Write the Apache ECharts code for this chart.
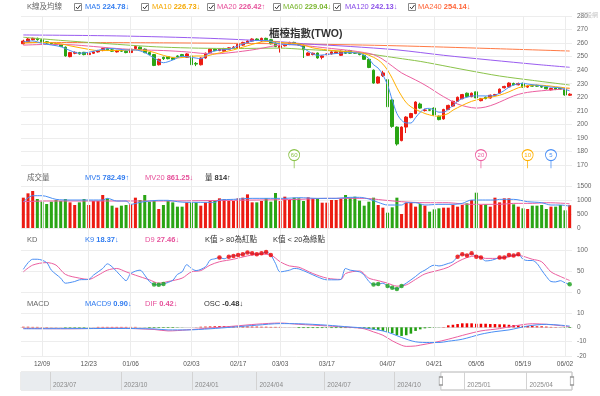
<!DOCTYPE html>
<html><head><meta charset="utf-8">
<script src="https://cdn.jsdelivr.net/npm/echarts@6/dist/echarts.min.js"></script>
<style>html,body{margin:0;padding:0;background:#fff}#c{width:600px;height:396px}</style>
</head><body><div id="c"></div>
<script>
// ---------- categories ----------
const monthDays = [
  ['12',[3,4,5,6,9,10,11,12,13,16,17,18,19,20,23,24,25,26,27,30,31]],
  ['01',[2,3,6,7,8,9,10,13,14,15,16,17,20,21,22]],
  ['02',[3,4,5,6,7,10,11,12,13,14,17,18,19,20,21,24,25,26,27]],
  ['03',[3,4,5,6,7,10,11,12,13,14,17,18,19,20,21,24,25,26,27,28,31]],
  ['04',[1,2,7,8,9,10,11,14,15,16,17,18,21,22,23,24,25,28,29,30]],
  ['05',[2,5,6,7,8,9,12,13,14,15,16,19,20,21,22,23,26,27,28,29]],
  ['06',[2,3]]
];
const dates = monthDays.flatMap(([m, ds]) => ds.map(d => m + '/' + String(d).padStart(2,'0')));
const dateTicks = ['12/09','12/23','01/06','02/03','02/17','03/03','03/17','04/07','04/21','05/05','05/19','06/02'];

// ---------- price ----------
const open = [259.5,261,262.5,263.5,262.5,261,260,259.5,258.8,257,
250,252.5,253,253.2,251.5,252.5,253.5,254.5,256,255,
253.5,254.5,254,253,256,257,255.5,253,251.5,244,
249.5,250,249,250.5,251.5,249.5,250.5,245,244,249,
253,255.5,254.5,254,255.5,256.5,256.5,258.5,260,261.5,
263,261.5,263.5,262.5,260,256.5,258,259,260.5,259.5,
258.5,251,251.5,252.7,249.5,251.5,252,252.5,251,254,
254.5,253,252.5,251,248,240,230.5,236,233,218,
198,188,198,205,208,215,210.3,210.8,212,206,
204,211,213.5,217,219,223,220.5,224,217.5,220,
219.5,221.5,223,227,227.6,230.2,229.2,230.3,227.5,228.8,
228.8,228,227.5,225.5,226.8,226.5,226,221.5];
const close = [261.5,263,263.5,262.5,261,260,259.5,258.8,257.5,250.5,
253,253.2,252,251.5,252.5,253.5,254.5,256,255,254,
254.5,254,253,255.5,257.5,255.5,253,251.5,243.5,248,
248.5,248.5,248,250,250.5,252,244,244.5,249,252.5,
255.5,254.5,255.5,256,256.5,257,259,260.5,261.5,263,
262,263.5,262.5,259.5,257.5,258,259,260.5,259.5,258.5,
255,252.7,252.5,249,250.5,252,253.5,253.5,254,252.5,
252.5,252.5,251.5,248,242,230.5,235,238,213,198.5,
185.5,198,205.4,208,216.5,212,210.6,210.4,207,203.5,
211,214,217,220,222,220.5,223,219.5,219,219,
221.5,222,226,228,230.5,229.2,230.2,227.5,228.3,228.2,
228.2,227.5,226.3,226.5,225.8,226,221.7,222.3];
const low = [259,260.5,262,261.8,260.5,259.5,259,258.3,257,250,
249.5,251.8,251.5,251,251,252,253,254,254.5,253.5,
253,253.5,252.5,252.8,255.5,255,252.5,251,243,243.5,
247.5,248,247.5,249.5,250,249,243.5,243,243.5,248.5,
252.5,254,254,253.5,255,256,256,258,259.5,261,
261.5,261,262,259,257,253,257.5,258.5,259,258,
249,250.5,251,248.5,248,251,251.5,252,250.5,252,
252,252,251,247.5,241.5,230,230,235,212.5,197.5,
184.3,187.5,193.6,204.5,207.5,211.5,209.5,209.8,206.5,203,
203.5,210.5,213,216.5,218.5,220,220,217,217,218.5,
219,221,222.5,226.5,227,228.8,228.8,227,227,227.8,
227.8,227,225.8,225,225.3,225.5,221.2,221];
const high = [262.5,263.8,264,264,263,261.5,260.8,260,259.2,257.5,
253.5,253.8,253.5,253.5,253,254,255,256.5,256.5,255.5,
255,255,254.5,256,258,257.5,256,253.5,252,248.5,
250,250.5,249.5,251,252,252.5,251,246,249.5,253,
256,256,256,256.5,257,257.8,259.5,261,262,263.5,
263.5,264,264,263,260.5,258.5,259.5,261,261,260,
259,253.2,253,253,251,252.5,254,254,254.5,254.5,
255,253.5,253,251.5,248.5,240.5,235.5,239.5,233.5,218.5,
198.5,198.5,206,208.5,217,216,211.5,211.2,212.5,206.5,
211.5,214.5,217.5,220.5,222.5,223.5,223.5,225,219.5,220.5,
222,222.5,226.5,228.5,231,230.8,230.8,230.8,228.8,229.2,
229.2,228.5,228,227,227.2,227,226.5,223];

// moving averages: [index, value]
const ma5 = [[0,261],[2,261.6],[4,259.8],[6,258.6],[8,257.4],[10,254.5],[12,252.5],[14,253.2],[17,255.4],[19,256],[22,254.9],[24,254.9],[26,253],[28,249],[30,245.5],[32,247.5],[34,250.3],[36,249.5],[38,248.5],[40,253],[42,254.9],[44,255.4],[46,258],[48,260.5],[50,262],[52,262],[54,260],[56,259],[58,258.8],[59,258.5],[61,254],[63,251],[66,252],[68,252.6],[70,253],[72,252.5],[73,251],[74,248.5],[75,244],[76,241.5],[77,236.5],[78,229],[79,218],[80,208],[81,203],[82,201],[83,201],[84,205],[85,209],[86,211.5],[87,211.8],[88,210.5],[89,209],[90,209],[91,211],[92,214],[93,217],[94,219],[95,220],[96,221],[98,221],[100,221],[101,221.5],[102,223],[103,225],[104,227.5],[105,229],[106,230],[107,230.3],[108,229.8],[109,229.3],[111,228.5],[113,227.5],[115,227],[116,225.8],[117,224.78]];
const ma10 = [[0,260],[4,260.5],[8,259.5],[10,258],[13,256],[16,254.5],[20,254.5],[24,255],[27,254],[29,252],[31,250],[33,249],[35,249.8],[37,250.5],[39,250.5],[41,252],[43,253.5],[45,255],[47,257],[49,259],[51,260.8],[53,261.2],[55,260.5],[57,260],[59,259.5],[62,256.5],[65,255],[68,254],[71,253.2],[73,252.3],[75,249.5],[76,247.5],[77,244.5],[78,240],[79,234],[80,227],[81,221],[82,216],[83,213],[84,211],[85,209.5],[86,208],[87,207],[88,206.2],[89,206],[90,206.8],[91,208],[92,210.5],[94,214],[96,217],[98,218.8],[100,220],[102,221.5],[104,224],[106,227],[108,228.5],[110,229],[112,228.6],[114,227.8],[116,227],[117,226.73]];
const ma20 = [[0,258.5],[5,259],[10,258.8],[15,257.5],[20,256],[25,255],[30,254.5],[35,253.5],[38,252.5],[41,252],[44,252.8],[47,254],[50,255.5],[53,257.5],[56,259],[59,258.5],[62,257.5],[66,256],[70,254.5],[73,253],[75,251.5],[77,248],[79,243],[81,238],[83,234.5],[85,231],[87,227],[89,222.5],[91,218.5],[93,215],[95,213],[97,212],[99,212.8],[101,215],[103,218],[105,221],[107,223],[109,224.1],[111,224.8],[113,225.4],[115,225.9],[117,226.42]];
const ma60 = [[0,264.3],[8,262],[17,259.8],[30,257],[45,256],[55,256.3],[60,255.4],[65,254.5],[70,253.5],[75,251.5],[80,249],[85,246.5],[88,244.6],[95,240],[102,235.7],[109,232.5],[117,229.04]];
const ma120 = [[0,266],[20,265.3],[40,263.5],[55,261],[60,259.5],[70,257.5],[80,255],[90,251],[100,247.5],[110,244.2],[117,242.13]];
const ma240 = [[0,260.5],[30,260.2],[60,259.3],[80,258],[100,256],[117,254.14]];

// ---------- volume ----------
const volume = [1083,1238,1321,1035,940,857,940,1000,964,1035,
916,821,916,1035,821,964,964,1178,1059,797,
726,797,821,845,1083,1000,1178,940,964,678,
821,964,916,762,762,916,916,916,797,916,
964,964,1059,1035,964,964,1059,1083,1202,916,
916,964,1059,940,1250,964,1119,1000,1083,1060,
964,1095,1059,1059,904,904,1000,1000,1035,1178,
1083,1119,976,797,940,1083,821,726,547,738,
1083,500,904,904,762,857,797,583,666,702,
726,726,821,762,821,880,1000,1261,821,845,
762,1083,916,1059,1059,845,762,702,678,797,
797,821,678,762,762,821,631,814];
const mv5 = [[0,940],[2,1154],[4,1154],[7,1023],[10,1000],[13,1000],[17,1000],[18,1059],[20,964],[22,964],[23,845],[25,916],[27,964],[29,988],[31,988],[33,940],[35,916],[38,916],[41,916],[42,1000],[45,1023],[49,1059],[52,1059],[56,1059],[59,1083],[63,1059],[67,1059],[70,1095],[72,1095],[74,1035],[76,916],[78,821],[81,821],[82,904],[84,904],[86,821],[89,845],[92,845],[94,880],[96,1000],[99,1000],[101,1000],[102,1023],[105,1023],[108,940],[111,904],[113,821],[115,821],[117,782.49]];
const mv20 = [[0,940],[5,964],[10,964],[20,964],[30,964],[40,980],[50,1000],[59,1023],[65,1059],[73,1059],[77,1000],[81,940],[86,904],[91,904],[94,857],[96,845],[102,845],[105,880],[109,880],[112,904],[116,880],[117,861.25]];

// ---------- KD ----------
const kLine = [[0,54],[2,78],[3,78],[5,70],[6,52],[8,33],[9,21],[11,25],[12,29],[14,30],[15,40],[17,56],[18,67],[19,60],[21,37],[22,27],[23,44],[25,52],[26,40],[27,25],[28,18],[29,17],[30,19],[32,28],[33,42],[34,48],[35,65],[36,56],[37,51],[39,60],[40,76],[41,79],[42,82],[43,79],[44,84],[45,86],[46,88],[47,90],[48,94],[49,92],[50,90],[51,92],[52,95],[53,88],[54,68],[55,48],[57,52],[58,56],[59,55],[61,46],[63,36],[65,29],[67,29],[68,30],[69,56],[70,52],[72,48],[73,40],[74,25],[75,18],[76,19],[77,21],[78,14],[79,10],[80,7],[81,14],[82,21],[84,37],[85,46],[86,52],[88,64],[89,62],[91,68],[92,72],[93,84],[94,90],[95,87],[96,92],[97,84],[98,82],[99,74],[100,75],[101,78],[102,82],[103,82],[104,88],[105,87],[106,90],[107,78],[108,75],[109,75],[110,68],[111,52],[112,37],[113,25],[114,24],[115,27],[116,22],[117,18.37]];
const dLine = [[0,48],[2,64],[5,70],[7,64],[9,42],[12,33],[14,30],[16,40],[18,52],[20,56],[22,48],[24,40],[27,29],[29,21],[31,25],[34,33],[36,48],[38,51],[40,64],[42,72],[45,78],[48,86],[51,90],[53,88],[55,72],[57,62],[59,59],[62,44],[65,33],[68,30],[69,44],[72,50],[74,33],[76,27],[78,21],[80,14],[82,17],[84,30],[86,43],[89,52],[91,59],[93,72],[95,82],[97,86],[99,80],[102,80],[105,86],[106,87],[109,78],[111,72],[113,48],[115,37],[117,27.46]];

// ---------- MACD ----------
const osc = [0.4,0.4,0.3,0.3,0.2,0.2,0.1,0.1,0.05,-0.3,
-0.3,-0.3,-0.3,-0.3,-0.1,0.05,0.3,0.3,0.3,0.3,
0.3,0.3,0.3,0.3,0.3,0.05,-0.1,-0.4,-0.4,-0.4,
-0.4,-0.4,-0.4,-0.2,-0.1,0,0.05,0.1,0.4,0.5,
0.6,0.7,0.8,0.8,0.8,0.7,0.7,0.6,0.6,0.5,
0.5,0.4,0.4,0.3,0.3,0.3,0.05,0.05,0.05,-0.5,
-0.5,-0.5,-0.5,-0.5,-0.5,-0.5,-0.5,-0.5,-0.5,-0.5,
-0.5,-0.5,-0.6,-0.7,-1.0,-1.5,-1.8,-2.5,-3.2,-4.1,
-5.5,-6,-5.5,-4.4,-2.5,-1.4,-0.7,-0.4,-0.3,-0.1,
0.2,1.4,1.8,2.3,2.8,2.8,2.8,2.5,2.5,2.5,
2.3,2.3,2.1,2.1,1.8,1.6,1.4,1.1,0.9,0.9,
0.7,0.7,0.5,0.3,0.2,0.1,-0.3,-0.48];
const dif = [[0,-0.8],[10,-1],[20,-0.6],[28,-1.5],[31,-2.5],[35,-1.8],[40,-0.5],[45,0.8],[50,2.2],[55,3],[59,2.1],[65,1],[70,0],[73,-1],[75,-3.2],[77,-5.5],[79,-9.4],[81,-12.5],[82,-13.3],[84,-13],[85,-12.4],[88,-10.6],[91,-8.3],[95,-4.8],[98,-2.5],[102,-0.9],[105,0.9],[109,2.5],[112,2.1],[115,1.2],[117,0.42]];
const macd9 = [[0,-1],[10,-0.9],[20,-0.8],[28,-1.1],[31,-1.8],[35,-1.8],[40,-1],[45,0.2],[50,1.5],[55,2.6],[59,2.5],[65,1.5],[70,0.2],[73,-0.5],[77,-2.5],[79,-4.5],[81,-7.1],[84,-10.1],[87,-10.6],[89,-10.6],[91,-9.7],[94,-8.3],[98,-4.8],[101,-3],[104,-1.8],[108,0.9],[112,2.1],[115,1.5],[117,0.9]];

// ---------- legend texts ----------
const maNames = ['MA5','MA10','MA20','MA60','MA120','MA240'];
const maLast = ['224.78','226.73','226.42','229.04','242.13','254.14'];
const maArrow = ['↓','↓','↑','↓','↓','↓'];
const pinPeriods = [60,20,10,5];

// navigator (trading-day index of whole history)
const navTickPos = [26,90,154,212,273,336,399,455];
const navTickLabels = ['2023/07','2023/10','2024/01','2024/04','2024/07','2024/10','2025/01','2025/04'];
const navTotal = 496;
const navWindow = [378,496];

// ---------- styling ----------
const F = "'Liberation Sans','Noto Sans CJK TC',sans-serif";
const LC = {blue:'#4a8ff5', orange:'#ffb000', pink:'#ec5fa0', green:'#8bc34a', purple:'#9a5cf0', coral:'#ff7a45'};
const TC = {blue:'#2f7bf0', orange:'#f5a800', pink:'#e6509a', green:'#79b52d', purple:'#8a4fe8', coral:'#ff6336'};
const UP = '#ec1b12', DOWN = '#2aa515';
const maColors = ['blue','orange','pink','green','purple','coral'];
const N = dates.length;

const chart = echarts.init(document.getElementById('c'), null, {renderer:'canvas', width:600, height:396, devicePixelRatio:1});

const grids = [
  {left:21, right:28, top:16, height:149},
  {left:21, right:28, top:186, height:42},
  {left:21, right:28, top:250, height:42},
  {left:21, right:28, top:313, height:43},
  {left:21, right:28, top:372, height:18, show:true, borderColor:'#d8d8d8', borderWidth:1, backgroundColor:'transparent'},
  {left:21, right:28, top:16, height:340}
];
const catAxis = (gi, showLabel) => ({
  type:'category', gridIndex:gi, data:dates, boundaryGap:true,
  axisLine:{show:showLabel, lineStyle:{color:'#dddddd'}},
  axisTick:{show:false},
  axisLabel:{show:showLabel, interval:(i,v)=>dateTicks.includes(v), fontSize:6.5, color:'#555', margin:5, fontFamily:F},
  splitLine:{show:false}
});
const valAxis = (gi, min, max, interval) => ({
  type:'value', gridIndex:gi, position:'right', min, max, interval,
  axisLine:{show:false}, axisTick:{show:false},
  axisLabel:{fontSize:6.5, color:'#666', margin:5, fontFamily:F, formatter:(v)=>String(v)},
  splitLine:{lineStyle:{color:'#ededed', width:1}}
});

const line = (data, color, xi, yi, z) => ({
  type:'line', data, xAxisIndex:xi, yAxisIndex:yi, showSymbol:false, smooth:0.3,
  lineStyle:{color, width:1}, itemStyle:{color}, z:z||3, silent:true
});

const series = [];
// candles
series.push({
  type:'candlestick', xAxisIndex:0, yAxisIndex:0, barWidth:'68%',
  data: open.map((o,i)=>[o, close[i], low[i], high[i]]),
  itemStyle:{color:UP, color0:DOWN, borderColor:UP, borderColor0:DOWN, borderWidth:1},
  z:2,
  markPoint:{
    symbol:'path://M0,5A5,5,0,1,1,10,5A5,5,0,1,1,0,5ZM5,10L5,17',
    symbolSize:[11,18.7], symbolKeepAspect:false, silent:true,
    data: pinPeriods.map((p,k)=>{
      const col = [LC.green, LC.pink, LC.orange, LC.blue][k];
      return {coord:[N-p, 174.5], itemStyle:{color:'#fff', borderColor:col, borderWidth:1},
        label:{show:true, formatter:String(p), color:col, fontSize:6, fontFamily:F, offset:[0,-3.9]}};
    })
  }
});
[ma240, ma120, ma60, ma20, ma10, ma5].forEach((d,k)=>{
  const c = maColors[5-k];
  series.push(line(d, LC[c], 0, 0, 3));
});
// volume
series.push({
  type:'bar', xAxisIndex:1, yAxisIndex:1, barWidth:'65%', silent:true,
  data: volume.map((v,i)=>({value:v, itemStyle:{color: close[i]>=open[i]?UP:DOWN}}))
});
series.push(line(mv20, LC.pink, 1, 1));
series.push(line(mv5, LC.blue, 1, 1));
// KD
series.push(line(dLine, LC.pink, 2, 2));
series.push(line(kLine, LC.blue, 2, 2));
series.push({type:'scatter', xAxisIndex:2, yAxisIndex:2, symbolSize:4.5, z:5, silent:true,
  data:kLine.filter(p=>p[1]>80), itemStyle:{color:'#f00000'}});
series.push({type:'scatter', xAxisIndex:2, yAxisIndex:2, symbolSize:4.5, z:5, silent:true,
  data:kLine.filter(p=>p[1]<20), itemStyle:{color:'#1aa01a'}});
// MACD
series.push({
  type:'bar', xAxisIndex:3, yAxisIndex:3, barWidth:'55%', silent:true,
  data: osc.map(v=>({value:v, itemStyle:{color: v>=0?'#f00000':'#22a012'}}))
});
series.push(line(dif, LC.pink, 3, 3));
series.push(line(macd9, LC.blue, 3, 3));
// background vertical lines
series.push({
  type:'line', xAxisIndex:5, yAxisIndex:5, data:[], silent:true, z:0,
  markLine:{silent:true, symbol:['none','none'], animation:false, label:{show:false},
    lineStyle:{color:'#ececec', type:'solid', width:1},
    data: dateTicks.map(d=>({xAxis:d}))}
});
// navigator
series.push({
  type:'line', xAxisIndex:4, yAxisIndex:4, data:[], silent:true, z:1, zlevel:0,
  markArea:{silent:true, z:1, data:[
    [{xAxis:0, itemStyle:{color:'#e9ecef'}}, {xAxis:navWindow[0]}],
    [{xAxis:navWindow[0], itemStyle:{color:'rgba(255,255,255,0)', borderColor:'#c8c8c8', borderWidth:1}}, {xAxis:navWindow[1]}]
  ]},
  markLine:{silent:true, symbol:['none','none'], label:{show:false}, animation:false,
    lineStyle:{color:'#d3d3d3', type:'solid', width:1},
    data: navTickPos.map(v=>({xAxis:v}))},
  markPoint:{silent:true, symbol:'rect', symbolSize:[3.5,8],
    itemStyle:{color:'#fff', borderColor:'#999', borderWidth:1}, label:{show:false},
    data: navWindow.map(v=>({coord:[v,0.5]}))}
});

// legend rows via titles
const titles = [];
const T = (left, top, text, rich, style) => titles.push(Object.assign({left, top, padding:0, itemGap:0, text,
  textStyle:Object.assign({fontSize:7.5, fontFamily:F, color:'#666', fontWeight:'normal', lineHeight:9, rich:rich||{}}, style||{})}));
const rv = (col) => ({
  n:{color:TC[col], fontSize:7.5, fontFamily:F, lineHeight:9},
  v:{color:TC[col], fontSize:7.5, fontFamily:F, fontWeight:'bold', lineHeight:9},
  a:{color:TC[col], fontSize:7.5, fontFamily:F, lineHeight:9}
});
const rd = {n:{color:'#333',fontSize:7.5,fontFamily:F,lineHeight:9},v:{color:'#333',fontSize:7.5,fontFamily:F,fontWeight:'bold',lineHeight:9},a:{color:'#333',fontSize:7.5,fontFamily:F,lineHeight:9}};
T(27, 2.5, 'K線及均線');
const maX = [85,152,217,283,345,418];
const cbX = [74,141,207,273,333,408];
maNames.forEach((n,k)=>T(maX[k], 2.5, `{n|${n} }{v|${maLast[k]}}{a|${maArrow[k]}}`, rv(maColors[k])));
T(27, 173.5, '成交量');
T(85, 173.5, '{n|MV5 }{v|782.49}{a|↑}', rv('blue'));
T(145, 173.5, '{n|MV20 }{v|861.25}{a|↓}', rv('pink'));
T(205, 173.5, '{n|量 }{v|814}{a|↑}', rd);
T(27, 235.5, 'KD');
T(85, 235.5, '{n|K9 }{v|18.37}{a|↓}', rv('blue'));
T(145, 235.5, '{n|D9 }{v|27.46}{a|↓}', rv('pink'));
T(205, 235.5, 'K值 > 80為紅點', null, {color:'#333'});
T(273, 235.5, 'K值 < 20為綠點', null, {color:'#333'});
T(27, 299.5, 'MACD');
T(85, 299.5, '{n|MACD9 }{v|0.90}{a|↓}', rv('blue'));
T(145, 299.5, '{n|DIF }{v|0.42}{a|↓}', rv('pink'));
T(204, 299.5, '{n|OSC }{v|-0.48}{a|↓}', rd);
T(269, 28, '櫃檯指數(TWO)', null, {fontSize:10.5, fontWeight:'bold', color:'#333', lineHeight:12});
T(580, 12, '玩股網', null, {fontSize:6, color:'#c4c4c4', lineHeight:7});

const graphic = [];
cbX.forEach(x=>{
  graphic.push({type:'rect', shape:{x:x+0.5, y:3.5, width:7, height:7}, style:{fill:'#fff', stroke:'#8a8a8a', lineWidth:1}, silent:true});
  graphic.push({type:'polyline', shape:{points:[[x+2,7],[x+3.6,8.8],[x+6.5,5]]}, style:{stroke:'#333', fill:null, lineWidth:1}, silent:true});
});

chart.setOption({
  animation:false,
  backgroundColor:'#fff',
  title: titles,
  graphic,
  grid: grids,
  xAxis:[catAxis(0,false), catAxis(1,false), catAxis(2,false), catAxis(3,true),
    {type:'value', gridIndex:4, min:0, max:navTotal, position:'bottom', z:10,
      axisLine:{show:false}, axisTick:{show:false}, splitLine:{show:false},
      axisLabel:{show:true, inside:true, customValues:navTickPos, align:'left', verticalAlign:'bottom', margin:1.5,
        padding:[0,0,0,3], fontSize:6.5, color:'#8a8a8a', fontFamily:F,
        formatter:(v)=>{const i=navTickPos.indexOf(v); return i>=0?navTickLabels[i]:'';}}},
    Object.assign(catAxis(5,false), {axisLine:{show:false}})
  ],
  yAxis:[valAxis(0,170,280,10), valAxis(1,0,1500,500), valAxis(2,0,100,50), valAxis(3,-20,10,10),
    {type:'value', gridIndex:4, min:0, max:1, show:false},
    {type:'value', gridIndex:5, min:0, max:1, show:false}],
  series
});
</script>
</body></html>
